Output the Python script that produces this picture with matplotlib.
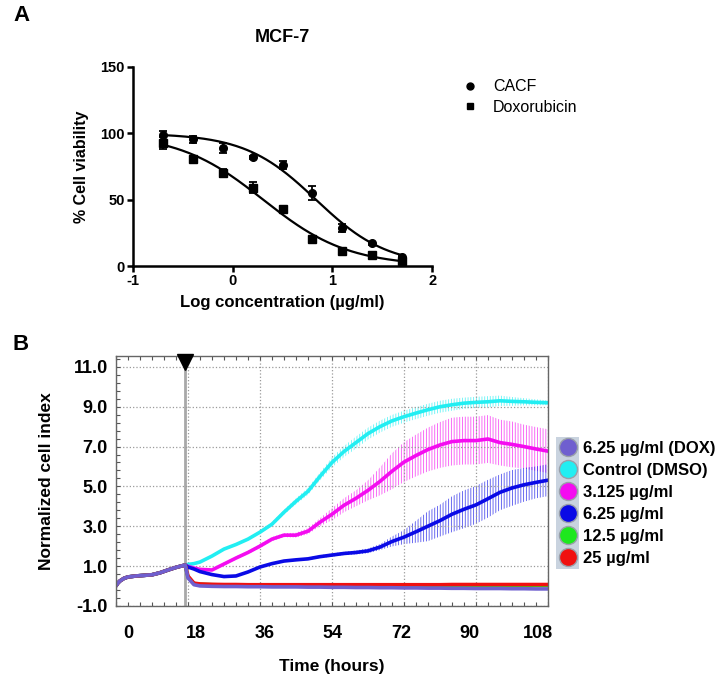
import numpy as np
import matplotlib.pyplot as plt
from matplotlib.lines import Line2D

plt.rcParams['font.family'] = ['Liberation Sans', 'DejaVu Sans']
plt.rcParams['axes.unicode_minus'] = False
plt.rcParams['hatch.linewidth'] = 0.6

# ---- panel A: MCF-7 dose response ----
log_conc = [-0.7, -0.4, -0.1, 0.2, 0.5, 0.8, 1.1, 1.4, 1.7]
cacf = [98.5, 95.5, 89, 82, 76, 55, 29, 17, 6.5]
cacf_err = [3.5, 2.5, 3.5, 1, 3, 5, 3, 1, 1]
dox = [93, 81, 70, 59, 43, 20, 11, 8, 3.5]
dox_err = [4.5, 2, 3, 4, 2.5, 2, 1.5, 1, 1]

# ---- panel B: RTCA normalized cell index ----
treat_time = 17.3
pre_hours = [0, 0.5, 1, 2, 3, 5, 7, 9, 11, 13, 15, 17.3]
pre_ci = [0.0, 0.15, 0.25, 0.38, 0.45, 0.5, 0.53, 0.56, 0.66, 0.8, 0.93, 1.05]
post_hours = [18, 19.5, 21, 24, 27, 30, 33, 36, 39, 42, 45, 48, 51, 54, 57, 60,
              63, 66, 69, 72, 75, 78, 81, 84, 87, 90, 93, 96, 99, 102, 105, 108]

ctrl = [1.08, 1.12, 1.2, 1.5, 1.85, 2.08, 2.35, 2.7, 3.1, 3.7, 4.25, 4.75, 5.5, 6.2, 6.75, 7.2,
        7.65, 8.0, 8.29, 8.5, 8.68, 8.85, 9.0, 9.1, 9.18, 9.22, 9.25, 9.3, 9.27, 9.25, 9.22, 9.2]
ctrl_err = [0.03, 0.03, 0.03, 0.04, 0.05, 0.05, 0.06, 0.08, 0.1, 0.12, 0.15, 0.18, 0.2, 0.25, 0.28, 0.3,
            0.3, 0.3, 0.3, 0.3, 0.3, 0.3, 0.3, 0.3, 0.28, 0.28, 0.28, 0.26, 0.22, 0.18, 0.15, 0.12]
c3125 = [0.98, 0.9, 0.83, 0.8, 1.1, 1.4, 1.68, 2.0, 2.35, 2.55, 2.55, 2.75, 3.2, 3.6, 4.05, 4.4,
         4.8, 5.25, 5.76, 6.22, 6.55, 6.85, 7.08, 7.25, 7.3, 7.3, 7.38, 7.2, 7.11, 7.0, 6.88, 6.77]
c3125_err = [0.03, 0.04, 0.05, 0.06, 0.07, 0.08, 0.08, 0.1, 0.1, 0.1, 0.12, 0.15, 0.2, 0.3, 0.35, 0.4,
             0.5, 0.7, 0.9, 1.0, 1.05, 1.1, 1.15, 1.2, 1.2, 1.2, 1.2, 1.15, 1.15, 1.1, 1.1, 1.1]
c625 = [0.95, 0.85, 0.72, 0.57, 0.47, 0.5, 0.7, 0.95, 1.12, 1.25, 1.31, 1.36, 1.47, 1.55, 1.63, 1.68,
        1.76, 1.95, 2.23, 2.45, 2.72, 3.0, 3.28, 3.6, 3.85, 4.07, 4.38, 4.7, 4.92, 5.08, 5.2, 5.31]
c625_err = [0.02, 0.02, 0.03, 0.03, 0.03, 0.04, 0.04, 0.05, 0.05, 0.05, 0.06, 0.06, 0.07, 0.08, 0.08, 0.1,
            0.12, 0.15, 0.25, 0.35, 0.55, 0.75, 0.8, 0.9, 0.95, 0.95, 0.95, 0.9, 0.9, 0.85, 0.8, 0.8]
c125 = [0.45, 0.12, 0.08, 0.06, 0.05, 0.05, 0.05, 0.04, 0.04, 0.04, 0.04, 0.04, 0.04, 0.03, 0.03, 0.03,
        0.03, 0.03, 0.03, 0.03, 0.02, 0.02, 0.02, 0.02, 0.02, 0.02, 0.02, 0.02, 0.02, 0.02, 0.02, 0.02]
c25 = [0.5, 0.14, 0.1, 0.08, 0.07, 0.07, 0.06, 0.06, 0.06, 0.06, 0.06, 0.06, 0.06, 0.06, 0.06, 0.06,
       0.06, 0.06, 0.06, 0.06, 0.06, 0.06, 0.06, 0.07, 0.07, 0.07, 0.07, 0.07, 0.07, 0.07, 0.07, 0.07]
dox_ci = [0.4, 0.06, 0.0, -0.02, -0.03, -0.03, -0.04, -0.04, -0.05, -0.05, -0.05, -0.06, -0.06, -0.07, -0.07, -0.08,
          -0.08, -0.09, -0.09, -0.1, -0.1, -0.11, -0.11, -0.12, -0.12, -0.13, -0.13, -0.13, -0.14, -0.14, -0.15, -0.15]

legend_labels = ['6.25 µg/ml (DOX)', 'Control (DMSO)', '3.125 µg/ml', '6.25 µg/ml', '12.5 µg/ml', '25 µg/ml']
legend_colors = ['#6f5fcf', '#22eef2', '#f40cf0', '#0a0ae6', '#1ee81e', '#f01010']
x_ticks_b = [0, 18, 36, 54, 72, 90, 108]
y_ticks_b = [-1.0, 1.0, 3.0, 5.0, 7.0, 9.0, 11.0]


def hill(x, logic50, slope):
    return 100 / (1 + 10 ** ((x - logic50) * slope))


def fit_hill(x, y):
    # brute force least squares, top=100 bottom=0
    c = np.arange(-0.5, 2.0, 0.005)
    h = np.arange(0.3, 3.0, 0.01)
    C, H = np.meshgrid(c, h, indexing='ij')
    pred = hill(np.asarray(x)[None, None, :], C[..., None], H[..., None])
    sse = ((pred - np.asarray(y)) ** 2).sum(-1)
    i, j = np.unravel_index(sse.argmin(), sse.shape)
    return c[i], h[j]


fig = plt.figure(figsize=(7.19, 6.76), dpi=100)

# ================= A =================
axA = fig.add_axes([0.185, 0.6065, 0.416, 0.2944])
xs = np.linspace(log_conc[0], log_conc[-1], 200)
for y, e, m in [(cacf, cacf_err, 'o'), (dox, dox_err, 's')]:
    p = fit_hill(log_conc, y)
    axA.plot(xs, hill(xs, *p), color='black', lw=1.6)
    axA.errorbar(log_conc, y, yerr=e, fmt=m, color='black', ms=5.5 if m == 'o' else 6,
                 capsize=3, elinewidth=1.3, capthick=1.3, clip_on=False)

axA.set_xlim(-1, 2)
axA.set_ylim(0, 150)
axA.set_xticks([-1, 0, 1, 2])
axA.set_yticks([0, 50, 100, 150])
for s in ['top', 'right']:
    axA.spines[s].set_visible(False)
for s in ['left', 'bottom']:
    axA.spines[s].set_linewidth(1.8)
axA.tick_params(width=1.8, length=4, labelsize=10.5, pad=2)
for t in axA.get_xticklabels() + axA.get_yticklabels():
    t.set_fontweight('bold')
axA.set_title('MCF-7', fontsize=13, fontweight='bold', pad=18)
axA.set_ylabel('% Cell viability', fontsize=11.5, fontweight='bold', labelpad=8)
axA.set_xlabel('Log concentration (µg/ml)', fontsize=12, fontweight='bold', labelpad=5)
hA = [Line2D([], [], marker='o', ls='none', color='black', ms=5),
      Line2D([], [], marker='s', ls='none', color='black', ms=5)]
axA.legend(hA, ['CACF', 'Doxorubicin'], loc='upper left', bbox_to_anchor=(1.08, 0.97),
           frameon=False, fontsize=11.5, handletextpad=0.9, handlelength=1.0,
           borderaxespad=0, labelspacing=0.35)

# ================= B =================
axB = fig.add_axes([0.1613, 0.1038, 0.6008, 0.3696])

series = [(ctrl, ctrl_err, legend_colors[1]),
          (c3125, c3125_err, legend_colors[2]),
          (c625, c625_err, legend_colors[3]),
          (c125, None, legend_colors[4]),
          (c25, None, legend_colors[5]),
          (dox_ci, None, legend_colors[0])]

hrs = np.array(pre_hours + post_hours)
for vals, err, col in series:
    full = np.array(pre_ci + vals)
    if err is not None:
        e = np.array([0.0] * len(pre_ci) + err)
        axB.fill_between(hrs, full - e, full + e, facecolor='none', edgecolor=col,
                         hatch='||||||', lw=0, alpha=0.7)
    axB.plot(hrs, full, color=col, lw=2.6, solid_capstyle='round')

axB.axvline(treat_time, color='#a8a8a8', lw=2, zorder=1)
axB.plot(treat_time, 11.25, marker='v', color='black', ms=11, clip_on=False, zorder=5)

axB.set_xlim(0, 108)
axB.set_ylim(-1, 11.55)
axB.set_xticks(x_ticks_b)
axB.set_yticks(y_ticks_b)
axB.set_yticklabels(['%.1f' % v for v in y_ticks_b])
axB.set_xticks(np.arange(0, 109, 3), minor=True)
axB.set_yticks(np.arange(-1, 11.5, 0.4), minor=True)
axB.grid(True, which='major', linestyle=':', color='#9a9a9a', lw=0.9)
axB.tick_params(which='both', direction='in', top=True, length=3, width=0.8, color='#555555')
axB.tick_params(axis='x', which='both', labelbottom=False)
axB.tick_params(axis='y', which='major', labelsize=13, pad=6)
for t in axB.get_yticklabels():
    t.set_fontweight('bold')
for s in axB.spines.values():
    s.set_color('#666666')
    s.set_linewidth(1)
axB.set_ylabel('Normalized cell index', fontsize=12.5, fontweight='bold', labelpad=14)

# the instrument software prints the hour labels slightly off the grid
secB = axB.secondary_xaxis('bottom', functions=(lambda t: (t - 3) / 0.9486,
                                                lambda v: 3 + 0.9486 * v))
secB.set_xticks(x_ticks_b)
secB.tick_params(length=0, labelsize=13, pad=14)
secB.spines['bottom'].set_visible(False)
for t in secB.get_xticklabels():
    t.set_fontweight('bold')
secB.set_xlabel('Time (hours)', fontsize=12.5, fontweight='bold', labelpad=12)

handles = [Line2D([], [], marker='o', linestyle='none', markerfacecolor=c,
                  markeredgecolor='#9aa0aa', markersize=13) for c in legend_colors]
blank = [Line2D([], [], marker='o', linestyle='none', alpha=0, markersize=13) for c in legend_colors]
leg_kw = dict(loc='upper left', bbox_to_anchor=(1.019, 0.675), prop={'weight': 'bold', 'size': 12},
              handlelength=1.0, labelspacing=0.42, borderaxespad=0, borderpad=0.2)
legBg = axB.legend(handles, [''] * 6, frameon=True, facecolor='#c9d3df', edgecolor='none',
                   fancybox=False, framealpha=1, handletextpad=0, **leg_kw)
legBg.get_frame().set_linewidth(0)
axB.add_artist(legBg)
axB.legend(blank, legend_labels, frameon=False, handletextpad=0.4, **leg_kw)

fig.text(0.018, 0.977, 'A', fontsize=16, fontweight='bold', va='center')
fig.text(0.018, 0.49, 'B', fontsize=16, fontweight='bold', va='center')

fig.savefig('out.png', dpi=100, facecolor='white')
